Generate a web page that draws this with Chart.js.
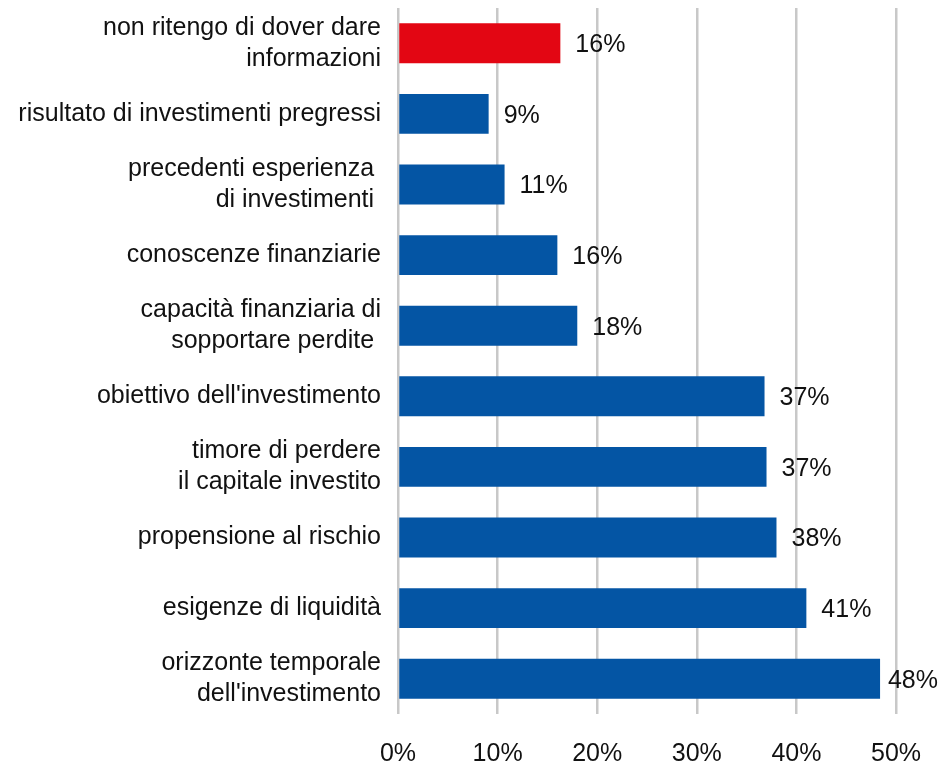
<!DOCTYPE html>
<html lang="it">
<head>
    <meta charset="UTF-8">
    <title>Informazioni fornite</title>
    <script src="https://cdn.jsdelivr.net/npm/chart.js"></script>
    <style>
        body {
            margin: 0;
            background: #fff;
        }
        #wrap {
            width: 940px;
            height: 767px;
        }
    </style>
</head>
<body>

<div id="wrap"><canvas id="barChart"></canvas></div>

<script>
    // categories (multi-line labels as arrays)
    const categories = [
        ['non ritengo di dover dare', 'informazioni'],
        'risultato di investimenti pregressi',
        ['precedenti esperienza ', 'di investimenti '],
        'conoscenze finanziarie',
        ['capacità finanziaria di', 'sopportare perdite '],
        "obiettivo dell'investimento",
        ['timore di perdere', 'il capitale investito'],
        'propensione al rischio',
        'esigenze di liquidità',
        ['orizzonte temporale', "dell'investimento"]
    ];
    const values = [16.3, 9.1, 10.7, 16.0, 18.0, 36.8, 37.0, 38.0, 41.0, 48.4];
    const valueLabels = ['16%', '9%', '11%', '16%', '18%', '37%', '37%', '38%', '41%', '48%'];
    const xTicks = [0, 10, 20, 30, 40, 50];

    const FONT = "'Liberation Sans', Arial, sans-serif";

    // draws the percentage next to each bar
    const valueLabelPlugin = {
        id: 'valueLabels',
        afterDatasetsDraw(chart) {
            const ctx = chart.ctx;
            const meta = chart.getDatasetMeta(0);
            ctx.save();
            ctx.font = '25px ' + FONT;
            ctx.fillStyle = '#111';
            ctx.textBaseline = 'middle';
            ctx.textAlign = 'left';
            meta.data.forEach((bar, i) => {
                const txt = valueLabels[i];
                const w = ctx.measureText(txt).width;
                let x = bar.x + 15;
                if (x + w > chart.width - 2) x = chart.width - 2 - w;
                ctx.fillText(txt, x, bar.y + 2);
            });
            ctx.restore();
        }
    };

    const ctx = document.getElementById('barChart').getContext('2d');
    new Chart(ctx, {
        type: 'bar',
        data: {
            labels: categories,
            datasets: [{
                data: values,
                backgroundColor: values.map((v, i) => i === 0 ? '#E30613' : '#0455A4'),
                borderWidth: 0,
                categoryPercentage: 1.0,
                barPercentage: 0.565
            }]
        },
        options: {
            indexAxis: 'y',
            responsive: true,
            maintainAspectRatio: false,
            animation: false,
            layout: {
                padding: { top: 8, right: 44, bottom: 0, left: 0 }
            },
            plugins: {
                legend: { display: false },
                tooltip: { enabled: false }
            },
            scales: {
                x: {
                    min: 0,
                    max: 50,
                    afterBuildTicks: (scale) => {
                        scale.ticks = xTicks.map(v => ({ value: v }));
                    },
                    afterFit: (scale) => {
                        scale.height = 53;
                        scale.paddingLeft = 0;
                        scale.paddingRight = 0;
                    },
                    grid: {
                        color: '#c8c8c8',
                        lineWidth: 2.5,
                        drawTicks: false
                    },
                    border: { display: false },
                    ticks: {
                        padding: 25,
                        color: '#111',
                        font: { family: FONT, size: 25 },
                        callback: (v) => v + '%'
                    }
                },
                y: {
                    afterFit: (scale) => {
                        scale.width = 398;
                        scale.paddingTop = 0;
                        scale.paddingBottom = 0;
                    },
                    grid: { display: false },
                    border: { display: false },
                    ticks: {
                        padding: 9,
                        color: '#111',
                        font: { family: FONT, size: 25, lineHeight: 1.25 }
                    }
                }
            }
        },
        plugins: [valueLabelPlugin]
    });
</script>

</body>
</html>
